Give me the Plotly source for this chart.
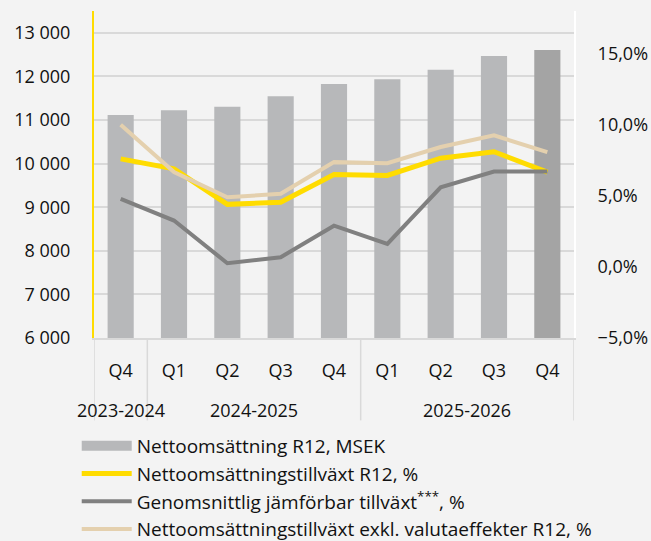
import plotly.graph_objects as go

# data
quarters = ["Q4", "Q1", "Q2", "Q3", "Q4", "Q1", "Q2", "Q3", "Q4"]
year_groups = ["2023-2024", "2024-2025", "2025-2026"]
group_sizes = [1, 4, 4]

net_sales = [11115, 11222, 11306, 11544, 11826, 11933, 12154, 12468, 12606]
growth_r12 = [7.6, 6.9, 4.4, 4.55, 6.5, 6.43, 7.65, 8.1, 6.67]
comparable = [4.79, 3.26, 0.26, 0.68, 2.9, 1.62, 5.6, 6.71, 6.71]
growth_fx = [10.0, 6.67, 4.9, 5.14, 7.37, 7.3, 8.43, 9.25, 8.07]

font = "Open Sans"
grid = "#d9d9d9"
bar_colors = ["#b7b8ba"] * 8 + ["#a4a4a4"]
x = list(range(len(quarters)))

fig = go.Figure()
fig.add_trace(go.Bar(x=x, y=net_sales, showlegend=False,
                     marker=dict(color=bar_colors, line=dict(width=0))))
# wide legend swatch for the bars
fig.add_trace(go.Scatter(x=[None], y=[None], mode="lines", name="Nettoomsättning R12, MSEK",
                         line=dict(color="#b7b8ba", width=11)))
fig.add_trace(go.Scatter(x=x, y=growth_r12, yaxis="y2", mode="lines",
                         name="Nettoomsättningstillväxt R12, %",
                         line=dict(color="#ffdc00", width=5)))
fig.add_trace(go.Scatter(x=x, y=comparable, yaxis="y2", mode="lines",
                         name="Genomsnittlig jämförbar tillväxt<sup>***</sup>, %",
                         line=dict(color="#808080", width=4)))
fig.add_trace(go.Scatter(x=x, y=growth_fx, yaxis="y2", mode="lines",
                         name="Nettoomsättningstillväxt exkl. valutaeffekter R12, %",
                         line=dict(color="#e4d0ae", width=4)))

# year group labels and dividers under the axis
start = 0
bounds = [-0.5]
for name, n in zip(year_groups, group_sizes):
    mid = start + (n - 1) / 2
    fig.add_annotation(x=mid, y=-0.22, xref="x", yref="paper", yanchor="middle",
                       text=name, showarrow=False, font=dict(size=18))
    start += n
    bounds.append(start - 0.5)
for b in bounds:
    fig.add_shape(type="line", x0=b, x1=b, y0=0, y1=-0.252, xref="x", yref="paper",
                  line=dict(color=grid, width=1.5))

fig.update_layout(
    width=651, height=541,
    margin=dict(l=94, r=77, t=11, b=203, autoexpand=False),
    paper_bgcolor="#f3f3f3", plot_bgcolor="#f3f3f3",
    font=dict(family=font, size=18, color="#111111"),
    separators=", ",
    bargap=0.51,
    showlegend=True,
    legend=dict(x=-0.036, y=-0.272, xanchor="left", yanchor="top", orientation="v",
                bgcolor="rgba(0,0,0,0)", font=dict(size=19), itemwidth=50,
                tracegroupgap=0),
    xaxis=dict(tickvals=x, ticktext=quarters, range=[-0.5, 8.5], showline=True,
               linecolor=grid, linewidth=1.5, showgrid=False, zeroline=False,
               ticks="", ticklabelstandoff=16),
    yaxis=dict(range=[6000, 13500], dtick=1000, tickformat=",d", showgrid=True,
               gridcolor=grid, gridwidth=1.5, showline=True, linecolor="#ffdc00",
               linewidth=2, zeroline=False, ticklabelstandoff=18),
    yaxis2=dict(range=[-5, 18], dtick=5, tick0=0, tickformat=".1f", ticksuffix="%",
                overlaying="y", side="right", showgrid=False, zeroline=False,
                showline=True, linecolor="#ffffff", linewidth=2, ticklabelstandoff=18),
)

# drop the page's default body margin so the 651x541 figure fills the window
fig.write_html("out.html", config={"displayModeBar": False},
               post_script="document.body.style.margin='0';"
                           "document.body.style.background='#f3f3f3';")
